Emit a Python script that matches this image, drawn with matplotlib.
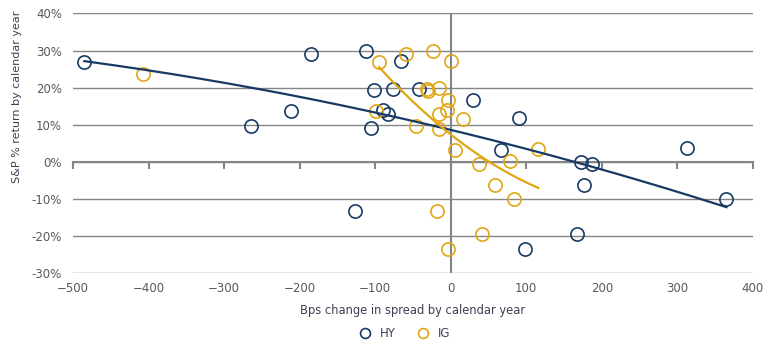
import numpy as np
import matplotlib
matplotlib.use("Agg")
import matplotlib.pyplot as plt
import matplotlib.ticker as mticker

# HY: bps change in spread vs S&P return (%) by calendar year
hy_spread = [-485, -264, -211, -185, -112, -102, -106, -90, -83, -77, -66, -42,
             30, 90, 66, 172, 187, 313, -127, 176, 365, 167, 98]
hy_return = [26.8, 9.6, 13.7, 29.2, 29.9, 19.3, 9.2, 13.9, 13.0, 19.7, 27.2, 19.7,
             16.6, 11.7, 3.1, 0.0, -0.5, 3.8, -13.1, -6.1, -10.0, -19.4, -23.4]

# IG
ig_spread = [-407, -95, -99, -59, -24, 0, -32, -30, -16, -3, -5, -16, -46, -16,
             16, 5, 38, 79, 116, 58, 84, -18, 41, -3]
ig_return = [23.8, 26.8, 13.7, 29.2, 29.9, 27.2, 19.7, 19.2, 19.8, 16.6, 13.9, 13.0,
             9.8, 9.0, 11.6, 3.1, -0.5, 0.2, 3.6, -6.2, -9.9, -13.1, -19.5, -23.4]

navy = "#173a64"
gold = "#e0a614"
grid_col = "#858585"
text_col = "#595959"
label_col = "#3f3f55"

fig = plt.figure(figsize=(7.7, 3.44), dpi=100)
ax = fig.add_axes([0.0948, 0.2055, 0.883, 0.7555])

ax.set_xlim(-500, 400)
ax.set_ylim(-30, 40)
ax.set_yticks(np.arange(-30, 41, 10))
ax.set_xticks(np.arange(-500, 401, 100))
ax.yaxis.set_major_formatter(mticker.FuncFormatter(lambda v, p: f"{v:.0f}%"))
ax.grid(axis="y", color=grid_col, linewidth=1)
ax.set_axisbelow(True)

for s in ["top", "right", "bottom", "left"]:
    ax.spines[s].set_visible(False)
ax.axvline(0, color=grid_col, lw=1.5, zorder=1)
ax.tick_params(axis="y", length=0, labelsize=8.5, labelcolor=text_col, pad=8)
ax.tick_params(axis="x", length=0, labelsize=8.5, labelcolor=text_col, pad=6)

# zero line with ticks
sec = ax.secondary_xaxis(3 / 7)
sec.set_xticks(np.arange(-500, 401, 100))
sec.tick_params(axis="x", direction="out", length=5, width=1.5, color=grid_col,
                labelbottom=False, labeltop=False)
sec.spines["bottom"].set_color(grid_col)
sec.spines["bottom"].set_linewidth(1.5)

ax.plot(hy_spread, hy_return, "o", ms=9.5, mfc="none", mec=navy, mew=1.2, label="HY", zorder=3)
ax.plot(ig_spread, ig_return, "o", ms=9.5, mfc="none", mec=gold, mew=1.2, label="IG", zorder=3)

# polynomial trend lines
hy_fit = np.polyfit(hy_spread, hy_return, 2)
xs = np.linspace(min(hy_spread), max(hy_spread), 200)
ax.plot(xs, np.polyval(hy_fit, xs), color=navy, lw=1.6, zorder=4)

ig_x = np.array(ig_spread)
ig_y = np.array(ig_return)
core = ig_x > -300
ig_fit = np.polyfit(ig_x[core], ig_y[core], 2)
xs = np.linspace(-95, ig_x[core].max(), 200)
ax.plot(xs, np.polyval(ig_fit, xs), color=gold, lw=1.6, zorder=4)

ax.set_xlabel("Bps change in spread by calendar year", fontsize=8.3, color=label_col, labelpad=7)
fig.text(0.022, 0.719, "S&P % return by calendar year", rotation=90, fontsize=8,
         color=label_col, ha="center", va="center")
leg = fig.legend(loc="center", bbox_to_anchor=(0.522, 0.03), ncol=2, frameon=False,
                 fontsize=8.5, labelcolor=label_col, handletextpad=0.25, columnspacing=1.3,
                 markerscale=0.75)

fig.savefig("out.png", dpi=100)
